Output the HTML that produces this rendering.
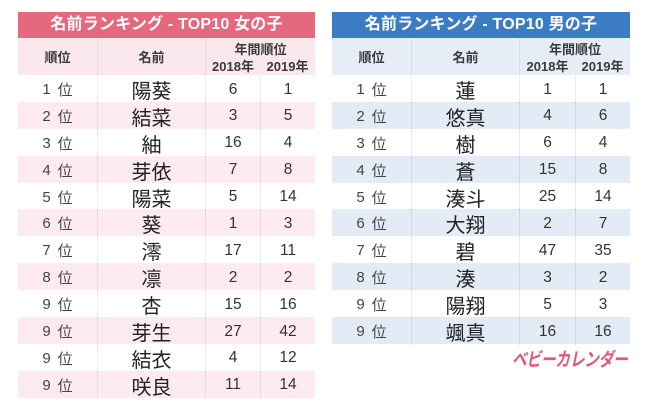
<!DOCTYPE html>
<html><head><meta charset="utf-8">
<style>
html,body{margin:0;padding:0;background:#fff;}
body{width:650px;height:409px;position:relative;overflow:hidden;font-family:"Liberation Sans","Noto Sans CJK JP",sans-serif;color:#333;}
.tbl{position:absolute;top:12px;}
.title{height:26px;line-height:26px;text-align:center;color:#fff;font-weight:bold;font-size:16px;letter-spacing:0.2px;}
.pink .title{background:#e6687f;}
.blue .title{background:#3c7cc3;}
.head{height:37px;display:grid;position:relative;}
.pink .head{background:#fbe8ec;}
.blue .head{background:#e7edf6;}
.head div{display:flex;align-items:center;justify-content:center;font-weight:bold;font-size:13px;color:#3a3a3a;}
.row{height:26.9px;display:grid;}
.row div{display:flex;align-items:center;justify-content:center;}
.pink .row:nth-child(odd){background:#fdebef;}
.blue .row:nth-child(odd){background:#e2ebf6;}
.row div+div{border-left:1px solid rgba(0,0,0,0.07);}
.r{font-size:15px;color:#444;}
.r span{margin-left:7px;}
.n{font-size:20px;color:#222;}
.v{font-size:15.5px;color:#333;}
.logo{position:absolute;left:512px;top:345px;color:#e4567e;font-weight:bold;font-style:italic;font-size:19px;transform:scaleX(0.78);transform-origin:left top;white-space:nowrap;letter-spacing:-0.5px;}
</style></head><body>

<div class="tbl pink" style="left:18px;width:297px;">
  <div class="title">名前ランキング - TOP10 女の子</div>
  <div class="head" style="grid-template-columns:79px 108px 55px 55px;grid-template-rows:19px 18px;">
    <div style="grid-row:1/3;grid-column:1;">順位</div>
    <div style="grid-row:1/3;grid-column:2;border-left:1px solid rgba(0,0,0,0.06);">名前</div>
    <div style="grid-row:1;grid-column:3/5;border-left:1px solid rgba(0,0,0,0.06);padding-top:2px;">年間順位</div>
    <div style="grid-row:2;grid-column:3;border-left:1px solid rgba(0,0,0,0.06);padding-bottom:2px;">2018年</div>
    <div style="grid-row:2;grid-column:4;padding-bottom:2px;">2019年</div>
  </div>
  <div class="rows">
    <div class="row" style="grid-template-columns:79px 108px 55px 55px;background:#fff;"><div class="r">1<span>位</span></div><div class="n">陽葵</div><div class="v">6</div><div class="v">1</div></div>
    <div class="row" style="grid-template-columns:79px 108px 55px 55px;background:#fdebef;"><div class="r">2<span>位</span></div><div class="n">結菜</div><div class="v">3</div><div class="v">5</div></div>
    <div class="row" style="grid-template-columns:79px 108px 55px 55px;background:#fff;"><div class="r">3<span>位</span></div><div class="n">紬</div><div class="v">16</div><div class="v">4</div></div>
    <div class="row" style="grid-template-columns:79px 108px 55px 55px;background:#fdebef;"><div class="r">4<span>位</span></div><div class="n">芽依</div><div class="v">7</div><div class="v">8</div></div>
    <div class="row" style="grid-template-columns:79px 108px 55px 55px;background:#fff;"><div class="r">5<span>位</span></div><div class="n">陽菜</div><div class="v">5</div><div class="v">14</div></div>
    <div class="row" style="grid-template-columns:79px 108px 55px 55px;background:#fdebef;"><div class="r">6<span>位</span></div><div class="n">葵</div><div class="v">1</div><div class="v">3</div></div>
    <div class="row" style="grid-template-columns:79px 108px 55px 55px;background:#fff;"><div class="r">7<span>位</span></div><div class="n">澪</div><div class="v">17</div><div class="v">11</div></div>
    <div class="row" style="grid-template-columns:79px 108px 55px 55px;background:#fdebef;"><div class="r">8<span>位</span></div><div class="n">凛</div><div class="v">2</div><div class="v">2</div></div>
    <div class="row" style="grid-template-columns:79px 108px 55px 55px;background:#fff;"><div class="r">9<span>位</span></div><div class="n">杏</div><div class="v">15</div><div class="v">16</div></div>
    <div class="row" style="grid-template-columns:79px 108px 55px 55px;background:#fdebef;"><div class="r">9<span>位</span></div><div class="n">芽生</div><div class="v">27</div><div class="v">42</div></div>
    <div class="row" style="grid-template-columns:79px 108px 55px 55px;background:#fff;"><div class="r">9<span>位</span></div><div class="n">結衣</div><div class="v">4</div><div class="v">12</div></div>
    <div class="row" style="grid-template-columns:79px 108px 55px 55px;background:#fdebef;"><div class="r">9<span>位</span></div><div class="n">咲良</div><div class="v">11</div><div class="v">14</div></div>
  </div>
</div>

<div class="tbl blue" style="left:332px;width:298px;">
  <div class="title">名前ランキング - TOP10 男の子</div>
  <div class="head" style="grid-template-columns:79px 108px 56px 55px;grid-template-rows:19px 18px;">
    <div style="grid-row:1/3;grid-column:1;">順位</div>
    <div style="grid-row:1/3;grid-column:2;border-left:1px solid rgba(0,0,0,0.06);">名前</div>
    <div style="grid-row:1;grid-column:3/5;border-left:1px solid rgba(0,0,0,0.06);padding-top:2px;">年間順位</div>
    <div style="grid-row:2;grid-column:3;border-left:1px solid rgba(0,0,0,0.06);padding-bottom:2px;">2018年</div>
    <div style="grid-row:2;grid-column:4;padding-bottom:2px;">2019年</div>
  </div>
  <div class="rows">
    <div class="row" style="grid-template-columns:79px 108px 56px 55px;background:#fff;"><div class="r">1<span>位</span></div><div class="n">蓮</div><div class="v">1</div><div class="v">1</div></div>
    <div class="row" style="grid-template-columns:79px 108px 56px 55px;background:#e2ebf6;"><div class="r">2<span>位</span></div><div class="n">悠真</div><div class="v">4</div><div class="v">6</div></div>
    <div class="row" style="grid-template-columns:79px 108px 56px 55px;background:#fff;"><div class="r">3<span>位</span></div><div class="n">樹</div><div class="v">6</div><div class="v">4</div></div>
    <div class="row" style="grid-template-columns:79px 108px 56px 55px;background:#e2ebf6;"><div class="r">4<span>位</span></div><div class="n">蒼</div><div class="v">15</div><div class="v">8</div></div>
    <div class="row" style="grid-template-columns:79px 108px 56px 55px;background:#fff;"><div class="r">5<span>位</span></div><div class="n">湊斗</div><div class="v">25</div><div class="v">14</div></div>
    <div class="row" style="grid-template-columns:79px 108px 56px 55px;background:#e2ebf6;"><div class="r">6<span>位</span></div><div class="n">大翔</div><div class="v">2</div><div class="v">7</div></div>
    <div class="row" style="grid-template-columns:79px 108px 56px 55px;background:#fff;"><div class="r">7<span>位</span></div><div class="n">碧</div><div class="v">47</div><div class="v">35</div></div>
    <div class="row" style="grid-template-columns:79px 108px 56px 55px;background:#e2ebf6;"><div class="r">8<span>位</span></div><div class="n">湊</div><div class="v">3</div><div class="v">2</div></div>
    <div class="row" style="grid-template-columns:79px 108px 56px 55px;background:#fff;"><div class="r">9<span>位</span></div><div class="n">陽翔</div><div class="v">5</div><div class="v">3</div></div>
    <div class="row" style="grid-template-columns:79px 108px 56px 55px;background:#e2ebf6;"><div class="r">9<span>位</span></div><div class="n">颯真</div><div class="v">16</div><div class="v">16</div></div>
  </div>
</div>

<div class="logo">ベビーカレンダー</div>
</body></html>
